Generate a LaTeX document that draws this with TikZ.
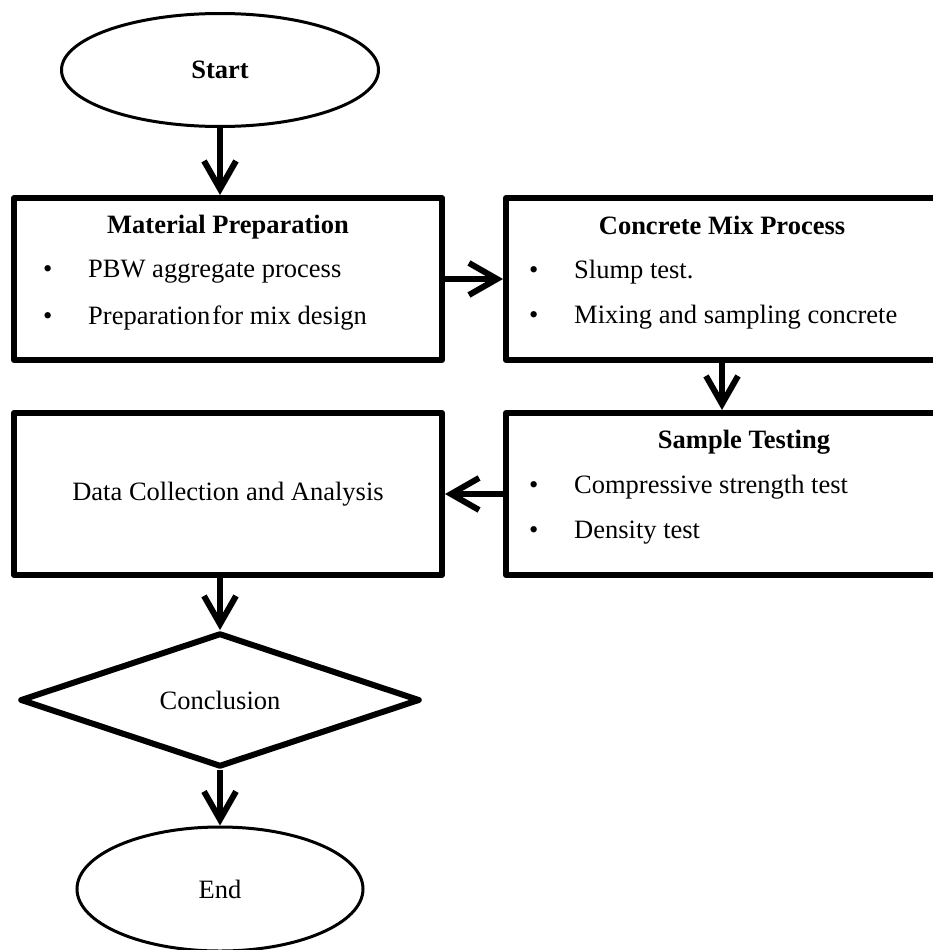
\documentclass[tikz,border=0pt]{standalone}
\usepackage{fontspec}
\setmainfont{Liberation Serif}
\usetikzlibrary{arrows.meta,shapes.geometric}
\newcommand{\puce}[1]{\makebox[45pt][l]{\textbullet}#1}

\begin{document}
\begin{tikzpicture}[x=1pt, y=-1pt, font=\fontsize{26.5}{30}\selectfont]
		% STYLES
		\tikzstyle{boite} = [draw=black, line width=6pt, line join=round, inner sep=0pt]
		\tikzstyle{ovale} = [ellipse, draw=black, line width=3pt, inner sep=0pt]
		\tikzstyle{losange} = [diamond, aspect=3, draw=black, line width=6pt, line join=round, inner sep=0pt]
		\tikzstyle{fleche} = [line width=6pt, -{Straight Barb[length=28pt, width=32pt]}]
		\tikzstyle{titre} = [font=\fontsize{26.5}{30}\selectfont\bfseries]
		\tikzstyle{ligne} = [anchor=west, inner sep=0pt]

		% CADRE
		\useasboundingbox (0, 0) rectangle (933, 950);
		\clip (0, 0) rectangle (933, 950);

		% DEBUT / FIN
		\node[ovale, minimum width=317pt, minimum height=113pt] (start) at (220, 70) {\textbf{Start}};
		\node[ovale, minimum width=286pt, minimum height=124pt] (fin) at (220, 889) {End};

		% BOITES
		\node[boite, minimum width=428pt, minimum height=162pt] (mat) at (228, 279) {};
		\node[boite, minimum width=432pt, minimum height=162pt] (mix) at (722, 279) {};
		\node[boite, minimum width=432pt, minimum height=162pt] (test) at (722, 494) {};
		\node[boite, minimum width=428pt, minimum height=162pt] (data) at (228, 494) {Data Collection and Analysis};

		% DECISION
		\node[losange, minimum width=400pt, minimum height=134pt] (concl) at (220, 700) {Conclusion};

		% TEXTES
		\node[titre] (matT) at (228, 227) {Material Preparation};
		\node[ligne] (mat1) at (43, 272) {\puce{PBW aggregate process}};
		\node[ligne] (mat2) at (43, 318) {\puce{Preparation\hspace{2pt}for mix design}};

		\node[titre] (mixT) at (722, 225) {Concrete Mix Process};
		\node[ligne] (mix1) at (529, 272) {\puce{Slump test.}};
		\node[ligne] (mix2) at (529, 317) {\puce{Mixing and sampling concrete}};

		\node[titre] (testT) at (744, 442) {Sample Testing};
		\node[ligne] (test1) at (529, 487) {\puce{Compressive strength test}};
		\node[ligne] (test2) at (529, 533) {\puce{Density test}};

		% FLECHES
		\draw[fleche] (start.south) -- (start.south |- mat.north);
		\draw[fleche] (mat.east) -- (mix.west);
		\draw[fleche] (mix.south) -- (test.north);
		\draw[fleche] (test.west) -- (data.east);
		\draw[fleche] (concl.north |- data.south) -- (concl.north);
		\draw[fleche] (concl.south) -- (fin.north);

	\end{tikzpicture}
\end{document}
